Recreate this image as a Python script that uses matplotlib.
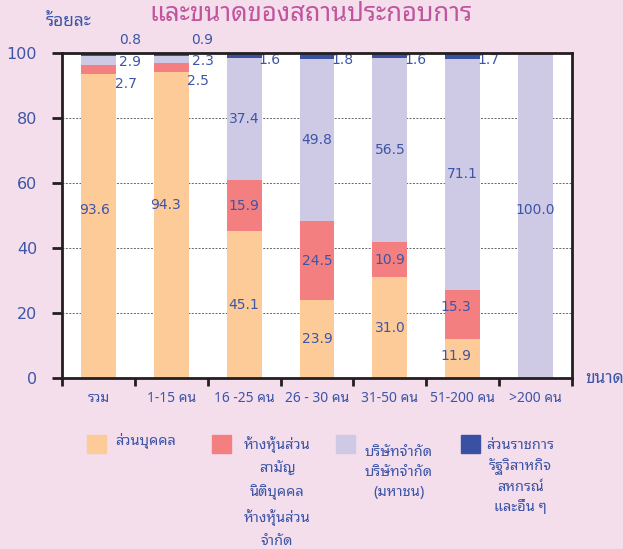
import numpy as np
import matplotlib
matplotlib.use("Agg")
import matplotlib.pyplot as plt

plt.rcParams['font.family'] = ['Noto Sans Thai Looped', 'DejaVu Sans']
NUM = 'DejaVu Sans'

# ข้อมูล (ร้อยละ)
categories = ["รวม", "1-15 คน", "16 -25 คน", "26 - 30 คน", "31-50 คน", "51-200 คน", ">200 คน"]
individual = [93.6, 94.3, 45.1, 23.9, 31.0, 11.9, 0]
partnership = [2.7, 2.5, 15.9, 24.5, 10.9, 15.3, 0]
company = [2.9, 2.3, 37.4, 49.8, 56.5, 71.1, 100.0]
government = [0.8, 0.9, 1.6, 1.8, 1.6, 1.7, 0]

series_names = ["ส่วนบุคคล",
                "ห้างหุ้นส่วน\nสามัญ\nนิติบุคคล\nห้างหุ้นส่วน\nจำกัด",
                "บริษัทจำกัด\nบริษัทจำกัด\n(มหาชน)",
                "ส่วนราชการ\nรัฐวิสาหกิจ\nสหกรณ์\nและอื่น ๆ"]
colors = ["#FDCB98", "#F47F80", "#CECAE6", "#3851A3"]
txt = "#3D55A8"
bg = "#F4DEEC"

data = [individual, partnership, company, government]
x = np.arange(len(categories))
w = 0.48

fig = plt.figure(figsize=(6.23, 5.49), dpi=100, facecolor=bg)
ax = fig.add_axes([62/623, 1-378/549, 510/623, 325/549])
ax.set_facecolor("white")

bottom = np.zeros(len(categories))
for k, vals in enumerate(data):
    vals = np.array(vals)
    ax.bar(x, vals, w, bottom=bottom, color=colors[k], zorder=2)
    # ตัวเลขกลางแท่ง
    if k < 3:
        for i, v in enumerate(vals):
            if v <= 0 or (i < 2 and k > 0):
                continue
            nx, ny = {(0, 0): (-4, 16), (1, 0): (-6, 20), (5, 0): (-7, 3),
                      (5, 1): (-7, 7), (6, 2): (0, 5)}.get((i, k), (0, 0))
            ax.annotate(f"{v:.1f}", (x[i], bottom[i] + v/2), xytext=(nx*0.72, ny*0.72),
                        textcoords="offset points", ha="center", va="center",
                        fontsize=10, color=txt, zorder=4, family=NUM)
    bottom += vals

# ตัวเลขด้านขวาของแท่ง (สองแท่งแรก)
for i in range(2):
    edge = x[i] + w/2
    ax.annotate(f"{partnership[i]:.1f}", (edge, individual[i]), xytext=(-1, -2),
                textcoords="offset points", ha="left", va="top", fontsize=10, color=txt, family=NUM)
    ax.annotate(f"{company[i]:.1f}", (edge, 100 - government[i] - company[i]/2), xytext=(2, -1),
                textcoords="offset points", ha="left", va="center", fontsize=10, color=txt, family=NUM)
    ax.annotate(f"{government[i]:.1f}", (edge, 100), xytext=(2, 9),
                textcoords="offset points", ha="left", va="center", fontsize=10, color=txt, family=NUM)
for i in range(2, len(categories)):
    if government[i] > 0:
        ax.annotate(f"{government[i]:.1f}", (x[i] + w/2, 100 - government[i]), xytext=(-2, -1),
                    textcoords="offset points", ha="left", va="center", fontsize=10,
                    color=txt, zorder=5, family=NUM)

ax.set_xlim(-0.5, len(categories) - 0.5)
ax.set_ylim(0, 100)
ax.set_yticks(np.arange(0, 101, 20))
for yv in [20, 40, 60, 80]:
    ax.axhline(yv, color="#666666", lw=0.7, ls=(0, (2, 1.5)), zorder=1)

for s in ax.spines.values():
    s.set_linewidth(2)
    s.set_color("#231F20")
    s.set_zorder(6)

ax.set_xticks(np.arange(-0.5, len(categories), 1))
ax.set_xticklabels([])
ax.set_xticks(x, minor=True)
ax.set_xticklabels(categories, minor=True)
ax.tick_params(axis="x", which="major", direction="out", length=6, width=2, color="#231F20")
ax.tick_params(axis="x", which="minor", length=0, pad=9, labelsize=10, labelcolor=txt)
ax.tick_params(axis="y", direction="out", length=7, width=2, color="#231F20",
               pad=11, labelsize=11.5, labelcolor=txt)
for t in ax.get_yticklabels():
    t.set_family(NUM)

fig.text(311/623, 1 - 21/549, "และขนาดของสถานประกอบการ", ha="center", va="baseline",
         fontsize=18.5, color="#C0559E", fontweight="bold")
fig.text(46/623, 1 - 21/549, "ร้อยละ", ha="left", va="center", fontsize=12.5, color=txt)
fig.text(585/623, 1 - 378/549, "ขนาด", ha="left", va="center", fontsize=12.5, color=txt)

# คำอธิบายสัญลักษณ์
sq_x = [87, 212, 336, 461]
lab_x = [115, 277, 399, 520]
lab_y = [433, 436, 445, 438]
lab_ls = [1.45, 1.7, 1.45, 1.45]
lab_ha = ["left", "center", "center", "center"]
for k in range(4):
    fig.patches.append(plt.Rectangle((sq_x[k]/623, 1 - 453/549), 19/623, 18/549,
                                     transform=fig.transFigure, color=colors[k]))
    fig.text(lab_x[k]/623, 1 - lab_y[k]/549, series_names[k], ha=lab_ha[k], va="top",
             ma="center", fontsize=10.5, color=txt, linespacing=lab_ls[k])

fig.savefig("out.png", dpi=100, facecolor=bg)
